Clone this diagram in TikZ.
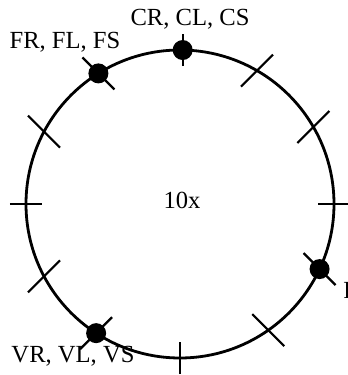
\documentclass[tikz,border=0pt]{standalone}
\usepackage{fontspec}
\setmainfont{Liberation Serif}
\usetikzlibrary{positioning}
\tikzset{
    dot/.style={circle, fill=black, inner sep=0pt, minimum size=10pt},
    lab/.style={font=\fontsize{12.3}{14}\selectfont, inner sep=1pt},
    tick/.style={line width=1.1pt}
}
\begin{document}
\begin{tikzpicture}[x=0.5pt,y=0.5pt,line width=1.4pt]
    \useasboundingbox (-180,-171) rectangle (168,204);

    % Ring
    \draw (0,0) circle (154);
    \node[lab] (centre) at (2,4) {10x};

    % Ticks
    \foreach \a/\dx/\dy in {60/16/16, 30/16/16, 0/16/0, -55/16/-16, -90/0/16,
                            -152/16/16, 180/16/0, 152/16/-16} {
        \draw[tick, shift={(\a:154)}] (-\dx,-\dy) -- (\dx,\dy);
    }

    % Marked positions
    \foreach \name/\a/\dx/\dy in {c/89/0/16, f/122/16/-16, v/237/16/16, r/-25/16/-16} {
        \draw[tick, shift={(\a:154)}] (-\dx,-\dy) -- (\dx,\dy);
        \node[dot] (\name) at (\a:154) {};
    }

    % Labels
    \node[lab] (clab) at (10,185) {CR, CL, CS};
    \node[lab] (flab) at (-115,162) {FR, FL, FS};
    \node[lab] (vlab) at (-107,-152) {VR, VL, VS};
    \node[lab, anchor=west] (rlab) at (160,-86) {F};
\end{tikzpicture}
\end{document}
